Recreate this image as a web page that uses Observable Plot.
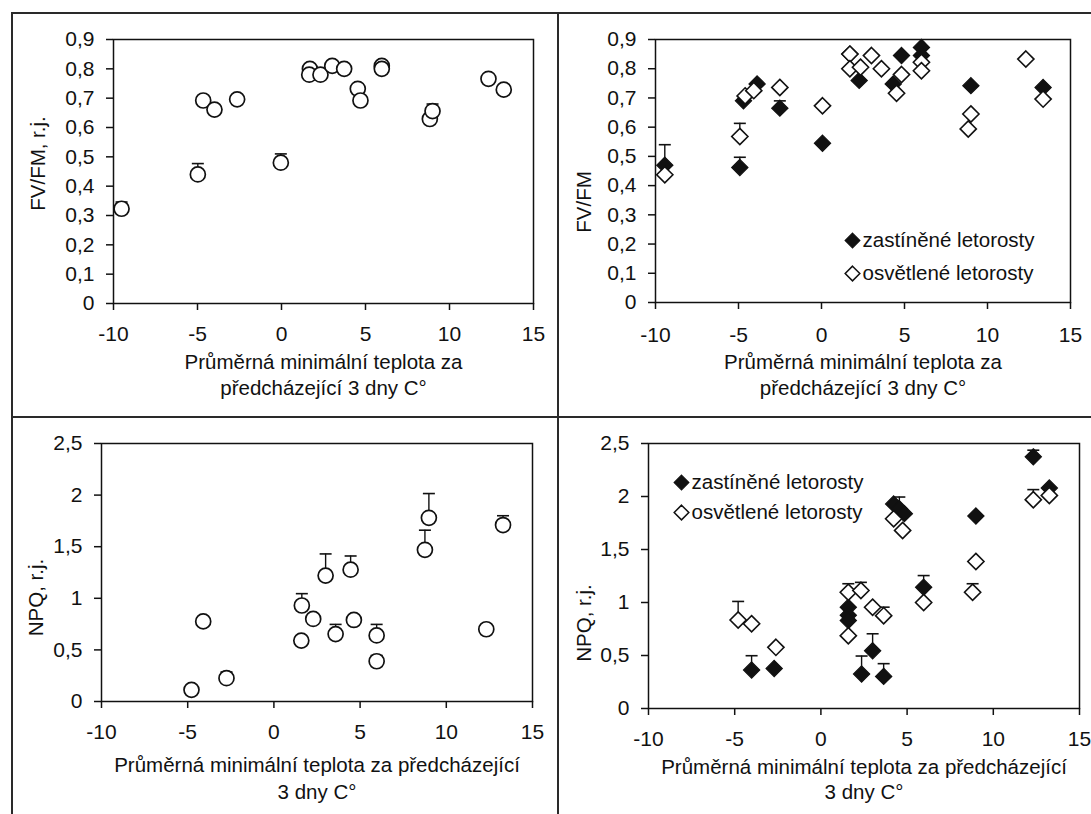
<!DOCTYPE html>
<html>
<head>
<meta charset="utf-8">
<script src="https://cdn.jsdelivr.net/npm/d3@7"></script>
<script src="https://cdn.jsdelivr.net/npm/@observablehq/plot@0.6"></script>
<style>
  html, body { margin: 0; padding: 0; background: #fff; }
  #wrap { position: relative; width: 1091px; height: 814px; overflow: hidden; background: #fff; font-family: "Liberation Sans", Arial, sans-serif; }
  .cell { position: absolute; }
  .line { position: absolute; background: #2a2a2a; }
</style>
</head>
<body>
<div id="wrap">
  <div class="line" style="left:11px;top:12px;width:1080px;height:2px"></div>
  <div class="line" style="left:11px;top:12px;width:2px;height:802px"></div>
  <div class="line" style="left:557px;top:12px;width:2px;height:802px"></div>
  <div class="line" style="left:11px;top:416px;width:1080px;height:2px"></div>
  <div class="cell" id="p1" style="left:13px;top:14px"></div>
  <div class="cell" id="p2" style="left:559px;top:14px"></div>
  <div class="cell" id="p3" style="left:13px;top:418px"></div>
  <div class="cell" id="p4" style="left:559px;top:418px"></div>
</div>
<script>
// ---------- tick labels / texts ----------
const xTicks = [-10, -5, 0, 5, 10, 15];
const fvTicks = [0, 0.1, 0.2, 0.3, 0.4, 0.5, 0.6, 0.7, 0.8, 0.9];
const npqTicks = [0, 0.5, 1, 1.5, 2, 2.5];
const xTitleTop = ["Průměrná minimální teplota za", "předcházející 3 dny C°"];
const xTitleBottom = ["Průměrná minimální teplota za předcházející", "3 dny C°"];
const legendLabels = ["zastíněné letorosty", "osvětlené letorosty"];

// ---------- panel 1: FV/FM, r.j. (mean) ----------
const p1X   = [-9.52, -4.98, -4.66, -3.99, -2.64, -0.04, 1.69, 1.65, 2.32, 3.02, 3.73, 4.54, 4.70, 5.97, 5.97, 8.83, 8.99, 12.32, 13.23];
const p1Y   = [0.323, 0.44, 0.692, 0.661, 0.696, 0.48, 0.80, 0.78, 0.78, 0.81, 0.80, 0.732, 0.692, 0.81, 0.80, 0.629, 0.656, 0.766, 0.729];
const p1Err = [0.023, 0.037, 0, 0, 0, 0.03, 0, 0, 0, 0, 0, 0, 0, 0, 0, 0, 0.024, 0, 0];

// ---------- panel 2: FV/FM by shoot type ----------
const p2ShadeX   = [-9.44, -4.92, -4.7, -3.88, -2.51, 0.06, 1.71, 2.27, 4.32, 4.82, 6.02, 6.02, 9.0, 13.35];
const p2ShadeY   = [0.47, 0.462, 0.69, 0.748, 0.665, 0.545, 0.85, 0.76, 0.748, 0.845, 0.873, 0.845, 0.742, 0.736];
const p2ShadeErr = [0.07, 0.035, 0, 0, 0.025, 0, 0, 0, 0, 0, 0, 0, 0, 0];
const p2SunX     = [-9.44, -4.92, -4.6, -4.08, -2.51, 0.06, 1.71, 1.71, 2.35, 3.01, 3.61, 4.52, 4.82, 6.02, 6.02, 8.84, 9.0, 12.31, 13.35];
const p2SunY     = [0.437, 0.568, 0.707, 0.725, 0.736, 0.673, 0.85, 0.80, 0.805, 0.845, 0.80, 0.716, 0.78, 0.822, 0.793, 0.594, 0.645, 0.833, 0.696];
const p2SunErr   = [0, 0.045, 0, 0, 0, 0, 0, 0, 0, 0, 0, 0, 0, 0, 0, 0, 0, 0, 0];

// ---------- panel 3: NPQ, r.j. (mean) ----------
const p3X   = [-4.78, -4.10, -2.75, 1.59, 1.62, 2.28, 3.0, 3.58, 4.45, 4.64, 5.96, 5.96, 8.76, 8.99, 12.32, 13.29];
const p3Y   = [0.113, 0.776, 0.226, 0.59, 0.93, 0.80, 1.22, 0.653, 1.277, 0.79, 0.64, 0.39, 1.47, 1.78, 0.70, 1.71];
const p3Err = [0, 0, 0.06, 0, 0.115, 0, 0.21, 0.094, 0.133, 0, 0.107, 0.056, 0.19, 0.235, 0, 0.09];

// ---------- panel 4: NPQ by shoot type ----------
const p4ShadeX   = [-4.02, -2.71, 1.59, 1.59, 1.59, 2.36, 3.0, 3.64, 4.22, 4.55, 4.84, 5.96, 8.99, 12.32, 13.25];
const p4ShadeY   = [0.363, 0.378, 0.955, 0.88, 0.83, 0.325, 0.545, 0.303, 1.93, 1.885, 1.838, 1.144, 1.816, 2.374, 2.08];
const p4ShadeErr = [0.135, 0, 0, 0, 0, 0.17, 0.16, 0.12, 0, 0.11, 0, 0.11, 0, 0.063, 0];
const p4SunX     = [-4.8, -4.02, -2.61, 1.59, 1.59, 2.32, 3.0, 3.64, 4.22, 4.74, 5.96, 8.8, 8.99, 12.32, 13.25];
const p4SunY     = [0.835, 0.80, 0.577, 1.097, 0.687, 1.113, 0.955, 0.876, 1.79, 1.68, 1.0, 1.097, 1.387, 1.97, 2.01];
const p4SunErr   = [0.175, 0, 0, 0.08, 0, 0.077, 0, 0.08, 0, 0, 0, 0.08, 0, 0.095, 0];

// ---------- helpers ----------
const INK = "#111";
const FONT = "\"Liberation Sans\", Arial, sans-serif";
const TICK_FS = 21;
const fmt = d => String(d).replace(".", ",");
const rows = (xs, ys, es) => xs.map((x, i) => ({x, y: ys[i], top: ys[i] + es[i], err: es[i]}));
const capSymbol = {
  draw(context, size) {
    const h = Math.sqrt(size / Math.PI);
    context.moveTo(-h, 0);
    context.lineTo(h, 0);
  }
};

function errMarks(data) {
  return [
    Plot.ruleX(data, {x: "x", y1: "y", y2: "top", filter: d => d.err > 0, stroke: INK, strokeWidth: 1.4}),
    Plot.dot(data, {x: "x", y: "top", filter: d => d.err > 0, symbol: capSymbol, r: 6, fill: "none", stroke: INK, strokeWidth: 1.6})
  ];
}

function panel(cfg) {
  const {width, height, mL, mR, mT, mB, yDomain, yTicks, yTitle, yDx, yDy, xTitle, xDy1, xDy2, xPad, marks} = cfg;
  const svg = Plot.plot({
    width, height,
    marginLeft: mL, marginRight: mR, marginTop: mT, marginBottom: mB,
    x: {domain: [-10, 15]},
    y: {domain: yDomain},
    style: {fontFamily: FONT, fontSize: "20px", color: INK, background: "transparent", overflow: "visible"},
    marks: [
      Plot.axisX({ticks: xTicks, tickFormat: fmt, tickSize: 7, tickPadding: xPad, label: null, stroke: INK, strokeWidth: 1.5, fontSize: TICK_FS}),
      Plot.axisY({ticks: yTicks, tickFormat: fmt, tickSize: 7, tickPadding: 12, label: null, stroke: INK, strokeWidth: 1.5, fontSize: TICK_FS}),
      Plot.frame({stroke: INK, strokeWidth: 1.5}),
      Plot.text([xTitle[0]], {frameAnchor: "bottom", lineAnchor: "middle", dy: xDy1, fontSize: 20.5, fill: INK}),
      Plot.text([xTitle[1]], {frameAnchor: "bottom", lineAnchor: "middle", dy: xDy2, fontSize: 20.5, fill: INK}),
      Plot.text([yTitle], {frameAnchor: "left", textAnchor: "middle", lineAnchor: "middle", rotate: -90, dx: yDx, dy: yDy, fontSize: 20.5, fill: INK}),
      ...marks
    ]
  });
  // make sure the numeric tick labels get the intended size
  svg.querySelectorAll("text").forEach(t => {
    if (/^-?\d+(,\d+)?$/.test(t.textContent.trim())) t.style.fontSize = TICK_FS + "px";
  });
  return svg;
}

function legendMarks(dx, dy, gap) {
  return [
    Plot.dot([legendLabels[0]], {frameAnchor: "top-left", dx: dx, dy: dy, symbol: "diamond2", r: 6.6, fill: INK, stroke: INK, strokeWidth: 1.2}),
    Plot.dot([legendLabels[1]], {frameAnchor: "top-left", dx: dx, dy: dy + gap, symbol: "diamond2", r: 6.6, fill: "#fff", stroke: INK, strokeWidth: 1.5}),
    Plot.text([legendLabels[0]], {frameAnchor: "top-left", dx: dx + 10, dy: dy, textAnchor: "start", lineAnchor: "middle", fontSize: 20.5, fill: INK}),
    Plot.text([legendLabels[1]], {frameAnchor: "top-left", dx: dx + 10, dy: dy + gap, textAnchor: "start", lineAnchor: "middle", fontSize: 20.5, fill: INK})
  ];
}

const d1 = rows(p1X, p1Y, p1Err);
const d2s = rows(p2ShadeX, p2ShadeY, p2ShadeErr);
const d2o = rows(p2SunX, p2SunY, p2SunErr);
const d3 = rows(p3X, p3Y, p3Err);
const d4s = rows(p4ShadeX, p4ShadeY, p4ShadeErr);
const d4o = rows(p4SunX, p4SunY, p4SunErr);

document.getElementById("p1").append(panel({
  width: 544, height: 402, mL: 100, mR: 24, mT: 25, mB: 113,
  yDomain: [0, 0.9], yTicks: fvTicks, yTitle: "FV/FM, r.j.", yDx: -75, yDy: -8,
  xTitle: xTitleTop, xDy1: 59, xDy2: 85, xPad: 16,
  marks: [
    ...errMarks(d1),
    Plot.dot(d1, {x: "x", y: "y", r: 7.5, fill: "#fff", stroke: INK, strokeWidth: 1.7})
  ]
}));

document.getElementById("p2").append(panel({
  width: 532, height: 402, mL: 96, mR: 21, mT: 25, mB: 114,
  yDomain: [0, 0.9], yTicks: fvTicks, yTitle: "FV/FM", yDx: -71, yDy: 31,
  xTitle: xTitleTop, xDy1: 60, xDy2: 86, xPad: 18,
  marks: [
    ...errMarks(d2s),
    Plot.dot(d2s, {x: "x", y: "y", symbol: "diamond2", r: 7.3, fill: INK, stroke: INK, strokeWidth: 1.2}),
    ...errMarks(d2o),
    Plot.dot(d2o, {x: "x", y: "y", symbol: "diamond2", r: 7.3, fill: "#fff", stroke: INK, strokeWidth: 1.6}),
    ...legendMarks(197, 201, 33)
  ]
}));

document.getElementById("p3").append(panel({
  width: 544, height: 396, mL: 88, mR: 25, mT: 25, mB: 113,
  yDomain: [0, 2.5], yTicks: npqTicks, yTitle: "NPQ, r.j.", yDx: -65, yDy: 25,
  xTitle: xTitleBottom, xDy1: 64, xDy2: 91, xPad: 16,
  marks: [
    ...errMarks(d3),
    Plot.dot(d3, {x: "x", y: "y", r: 7.5, fill: "#fff", stroke: INK, strokeWidth: 1.7})
  ]
}));

document.getElementById("p4").append(panel({
  width: 532, height: 396, mL: 89, mR: 12, mT: 25, mB: 106,
  yDomain: [0, 2.5], yTicks: npqTicks, yTitle: "NPQ, r.j.", yDx: -64, yDy: 47,
  xTitle: xTitleBottom, xDy1: 59, xDy2: 84, xPad: 16,
  marks: [
    ...errMarks(d4s),
    Plot.dot(d4s, {x: "x", y: "y", symbol: "diamond2", r: 7.3, fill: INK, stroke: INK, strokeWidth: 1.2}),
    ...errMarks(d4o),
    Plot.dot(d4o, {x: "x", y: "y", symbol: "diamond2", r: 7.3, fill: "#fff", stroke: INK, strokeWidth: 1.6}),
    ...legendMarks(33, 39, 30)
  ]
}));
</script>
</body>
</html>
